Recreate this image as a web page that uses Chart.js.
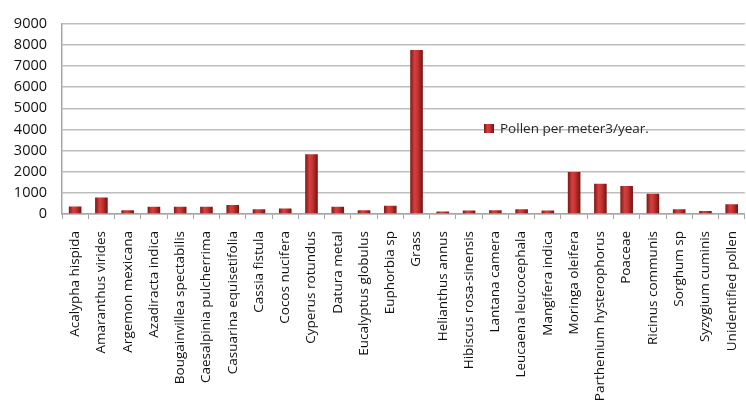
<!DOCTYPE html>
<html>
<head>
<meta charset="utf-8">
<script src="https://cdn.jsdelivr.net/npm/chart.js@4.4.1/dist/chart.umd.min.js"></script>
<style>
  html, body { margin: 0; padding: 0; background: #fff; overflow: hidden; }
  #wrap { position: absolute; left: 0; top: 0; width: 760px; height: 417px; }
</style>
</head>
<body>
<div id="wrap"><canvas id="pollen-chart" width="760" height="417"></canvas></div>
<script>
const species = [
  "Acalypha hispida", "Amaranthus virides", "Argemon mexicana", "Azadiracta indica",
  "Bougainvillea spectabilis", "Caesalpinia pulcherrima", "Casuarina equisetifolia",
  "Cassia fistula", "Cocos nucifera", "Cyperus rotundus", "Datura metal",
  "Eucalyptus globulus", "Euphorbia sp", "Grass", "Helianthus annus",
  "Hibiscus rosa-sinensis", "Lantana camera", "Leucaena leucocephala",
  "Mangifera indica", "Moringa oleifera", "Parthenium hysterophorus", "Poaceae",
  "Ricinus communis", "Sorghum sp", "Syzygium cuminis", "Unidentified pollen"
];
const pollenPerM3 = [
  350, 780, 180, 340, 340, 340, 430, 220, 260, 2830, 340, 180, 390,
  7760, 120, 170, 180, 230, 170, 1990, 1430, 1330, 960, 220, 140, 460
];
const yTicks = [0, 1000, 2000, 3000, 4000, 5000, 6000, 7000, 8000, 9000];
const seriesLabel = "Pollen per meter3/year.";

const FONT = "'Open Sans', 'DejaVu Sans', sans-serif";
const BAR_HALF = 6.5;

function cylinder(c, x0, x1) {
  const g = c.createLinearGradient(x0, 0, x1, 0);
  g.addColorStop(0, "#7a1414");
  g.addColorStop(0.35, "#d4403e");
  g.addColorStop(0.55, "#c83634");
  g.addColorStop(1, "#701212");
  return g;
}

// legend drawn inside the plot, like the original
const innerLegend = {
  id: "innerLegend",
  afterDraw(chart) {
    const c = chart.ctx;
    const x = 484, y = 124;
    c.save();
    c.fillStyle = cylinder(c, x, x + 10);
    c.fillRect(x, y, 10, 9);
    c.fillStyle = "#262626";
    c.font = "13.5px " + FONT;
    c.textBaseline = "middle";
    c.fillText(chart.data.datasets[0].label, x + 16, y + 5);
    c.restore();
  }
};

new Chart(document.getElementById("pollen-chart"), {
  type: "bar",
  data: {
    labels: species,
    datasets: [{
      label: seriesLabel,
      data: pollenPerM3,
      backgroundColor(ctx) {
        const chart = ctx.chart;
        if (!chart.chartArea || ctx.dataIndex === undefined) return "#b52a2a";
        const x = chart.scales.x.getPixelForValue(ctx.dataIndex);
        return cylinder(chart.ctx, x - BAR_HALF, x + BAR_HALF);
      },
      borderWidth: 0,
      categoryPercentage: 1.0,
      barPercentage: 0.48
    }]
  },
  options: {
    responsive: false,
    animation: false,
    layout: { padding: { top: 21, right: 5, left: 0, bottom: 0 } },
    plugins: {
      legend: { display: false },
      tooltip: { enabled: false }
    },
    scales: {
      x: {
        afterFit(scale) { scale.height = 203; },
        grid: {
          offset: true,
          drawOnChartArea: false,
          drawTicks: true,
          tickLength: 5,
          color: "#a6a6a6",
          lineWidth: 1
        },
        border: { color: "#a6a6a6", width: 1.5 },
        ticks: {
          autoSkip: false,
          minRotation: 90,
          maxRotation: 90,
          padding: 12,
          color: "#111",
          font: { family: FONT, size: 13.5 }
        }
      },
      y: {
        min: 0,
        max: 9000,
        afterFit(scale) { scale.width = 62; },
        afterBuildTicks(scale) { scale.ticks = yTicks.map(v => ({ value: v })); },
        grid: { color: "#bdbdbd", lineWidth: 1.5, drawTicks: false },
        border: { color: "#a6a6a6", width: 1.5 },
        ticks: {
          padding: 15,
          color: "#111",
          font: { family: FONT, size: 14.5 },
          callback: v => String(v)
        }
      }
    }
  },
  plugins: [innerLegend]
});
</script>
</body>
</html>
